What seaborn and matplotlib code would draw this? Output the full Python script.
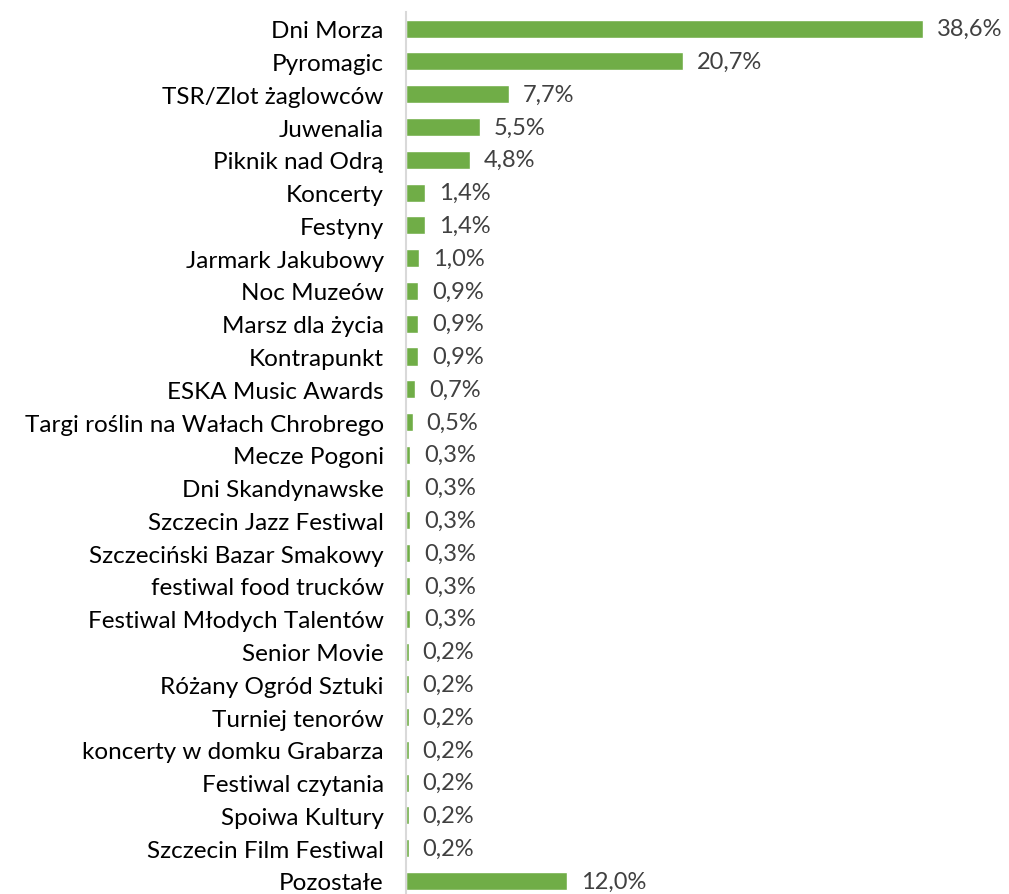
import pandas as pd
import matplotlib.pyplot as plt
import seaborn as sns

events = ['Dni Morza', 'Pyromagic', 'TSR/Zlot żaglowców', 'Juwenalia', 'Piknik nad Odrą',
          'Koncerty', 'Festyny', 'Jarmark Jakubowy', 'Noc Muzeów', 'Marsz dla życia',
          'Kontrapunkt', 'ESKA Music Awards', 'Targi roślin na Wałach Chrobrego',
          'Mecze Pogoni', 'Dni Skandynawske', 'Szczecin Jazz Festiwal',
          'Szczeciński Bazar Smakowy', 'festiwal food trucków', 'Festiwal Młodych Talentów',
          'Senior Movie', 'Różany Ogród Sztuki', 'Turniej tenorów',
          'koncerty w domku Grabarza', 'Festiwal czytania', 'Spoiwa Kultury',
          'Szczecin Film Festiwal', 'Pozostałe']
shares = [38.6, 20.7, 7.7, 5.5, 4.8, 1.4, 1.4, 1.0, 0.9, 0.9, 0.9, 0.7, 0.5,
          0.3, 0.3, 0.3, 0.3, 0.3, 0.3, 0.2, 0.2, 0.2, 0.2, 0.2, 0.2, 0.2, 12.0]

df = pd.DataFrame({'event': events, 'share': shares})

sns.set_style('white')
plt.rcParams['font.family'] = ['Lato', 'DejaVu Sans']

fig = plt.figure(figsize=(10.09, 8.95), dpi=100)
ax = fig.add_axes([406 / 1009, 0, 1 - 406 / 1009, 1])
sns.barplot(data=df, y='event', x='share', orient='h', color='#70AD47',
            width=0.55, saturation=1, ax=ax)

for i, v in enumerate(shares):
    ax.annotate(f'{v:.1f}%'.replace('.', ','), (v, i), xytext=(10, 0),
                textcoords='offset points', va='center', ha='left',
                fontsize=17, color='#404040')

ax.set_xlim(0, 45.0)
ax.set_ylim(26.397, -0.906)
ax.set_xlabel('')
ax.set_ylabel('')
ax.set_xticks([])
ax.tick_params(axis='y', length=0, pad=16, labelsize=17.5, labelcolor='black')
for s in ['top', 'right', 'bottom']:
    ax.spines[s].set_visible(False)
ax.spines['left'].set_color('#D9D9D9')
ax.spines['left'].set_linewidth(1.5)
ax.spines['left'].set_bounds(-0.5, 26.397)

fig.savefig('out.png', dpi=100)
